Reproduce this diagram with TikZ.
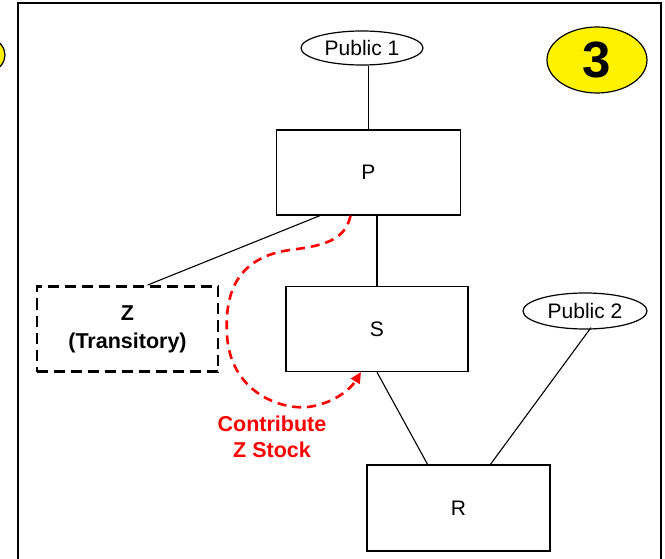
\documentclass[tikz,border=0pt]{standalone}
\usepackage{fontspec}
\setmainfont{Liberation Sans}
\usetikzlibrary{shapes.geometric, calc, arrows.meta, positioning}

\begin{document}
\begin{tikzpicture}[x=1pt, y=-1pt,
  every node/.style={font=\fontsize{21}{25}\selectfont},
  entity/.style={draw, line width=1.4pt, minimum width=184pt, minimum height=85pt},
  public/.style={draw, ellipse, line width=1.2pt, inner sep=0pt},
  link/.style={line width=1.1pt},
  flow/.style={red, line width=2.6pt, dash pattern=on 9pt off 6pt, -{Triangle[length=11pt,width=10pt]}},
  flowtext/.style={red, align=center, font=\fontsize{21.5}{26}\selectfont\bfseries}]

\useasboundingbox (0,0) rectangle (665,559);

%// panel frame and the neighbour panel on the left
\draw[line width=2pt] (18,559) -- (18,3) -- (661,3) -- (661,559);
\begin{scope}
\clip (0,0) rectangle (18,559);
\draw[fill=yellow, line width=1.2pt] (-42,55) ellipse (47pt and 26pt);
\end{scope}

%// step badge
\node[public, fill=yellow, minimum width=100pt, minimum height=66pt,
  font=\fontsize{51}{55}\selectfont\bfseries] (badge) at (597,60) {3};

%// companies
\node[public, minimum width=122pt, minimum height=34pt] (public1) at (362,48) {Public 1};
\node[public, minimum width=124pt, minimum height=36pt] (public2) at (585,311) {Public 2};

\node[entity] (P) at (368.5,172.5) {P};
\node[entity, minimum width=182pt] (S) at (377,329) {S};
\node[entity, minimum width=181pt, line width=2.8pt, dash pattern=on 11pt off 6pt,
  align=center, font=\fontsize{21.5}{28}\selectfont\bfseries] (Z) at (127.5,329) {Z\\(Transitory)};
\node[entity, minimum width=183pt, minimum height=86pt] (R) at (458.5,508) {R};

%// ownership lines
\draw[link] (P.north |- public1.south) -- (P.north);
\draw[link] (S.north |- P.south) -- (S.north);
\draw[link] ($(P.south west)+(44,0)$) -- ($(Z.north)+(20,0)$);
\draw[link] (S.south) -- ($(R.north)+(-31,0)$);
\draw[link] ($(public2.south)+(6,-2)$) -- ($(R.north)+(32,0)$);

%// contribution of Z stock
\draw[flow] ($(P.south)+(-18,0)$) .. controls (345,242) and (320,246) .. (290,250)
  .. controls (232,258) and (225,300) .. (227,335)
  .. controls (230,390) and (278,410) .. (308,407)
  .. controls (332,404) and (350,390) .. (361,372);
\node[flowtext] (contrib) at (272,437) {Contribute\\Z Stock};

\end{tikzpicture}
\end{document}
